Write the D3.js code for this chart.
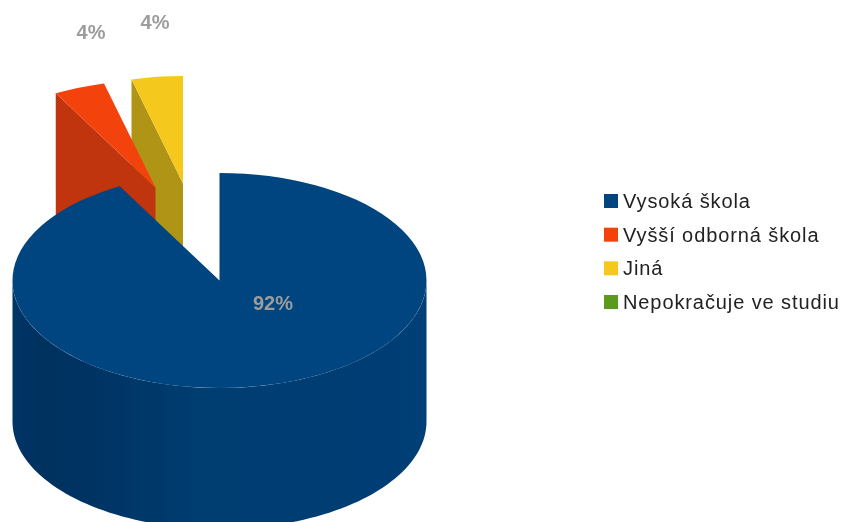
<!DOCTYPE html>
<html>
<head>
<meta charset="utf-8">
<style>
  html, body { margin: 0; padding: 0; background: #fff; overflow: hidden; }
  svg { display: block; }
  text { font-family: "Liberation Sans", sans-serif; }
</style>
</head>
<body>
<svg id="board" width="843" height="522"></svg>
<script src="https://cdn.jsdelivr.net/npm/d3@7"></script>
<script>
// Chart data
let categories = ['Vysoká škola', 'Vyšší odborná škola', 'Jiná', 'Nepokračuje ve studiu']
let values = [92, 4, 4, 0]
let percentLabels = ['92%', '4%', '4%', '0%']
let colors = ['#00457f', '#f4420f', '#f4c81c', '#5a9a1c']
let sideColors = ['#003c70', '#c0340a', '#b09418', '#4a7f16']

// Pie geometry, the flattened disc is a circle scaled on y
let cx = 219.5, cy = 280.5, rx = 207, ry = 107.5, depth = 141

// Where exploded slices moved to, and where the labels sit
let offsets = [[0, 0], [-64, -93], [-36.5, -97], [0, 0]]
let labelPos = [[273, 310], [91, 39], [155, 29]]

let board = d3.select('#board')
let defs = board.append('defs')

let blur = defs.append('filter').attr('id', 'soft')
    .attr('x', '-5%').attr('y', '-5%').attr('width', '110%').attr('height', '110%')
blur.append('feGaussianBlur').attr('stdDeviation', 0.6)

// Side of the big slice gets darker on the left
let grad = defs.append('linearGradient').attr('id', 'sideGrad')
    .attr('gradientUnits', 'userSpaceOnUse')
    .attr('x1', cx - rx).attr('x2', cx + rx).attr('y1', 0).attr('y2', 0)
let stops = [[0, '#003566'], [0.08, '#003060'], [0.2, '#003464'], [0.45, '#003c71'], [0.8, '#003d73'], [1, '#003f76']]
stops.forEach((s) => {
    grad.append('stop').attr('offset', s[0]).attr('stop-color', s[1])
})

let pie = d3.pie().sort(null).value((d) => d)
let slices = pie(values)

let arc = d3.arc().innerRadius(0).outerRadius(rx)

// Maps pie angle to a point on the rim of the flattened disc
let rimX = (a) => cx + rx * Math.sin(a)
let rimY = (a) => cy - ry * Math.cos(a)
let line = d3.line()

let chart = board.append('g').attr('filter', 'url(#soft)')

let drawTop = (i, fill) => {
    chart.append('path')
        .attr('d', arc(slices[i]))
        .attr('transform', 'translate(' + (cx + offsets[i][0]) + ',' + (cy + offsets[i][1]) + ') scale(1,' + (ry / rx) + ')')
        .attr('fill', fill)
}

// The exploded slices show the cut face on their left edge
let drawCutFace = (i) => {
    let dx = offsets[i][0], dy = offsets[i][1]
    let a = slices[i].startAngle
    let rim = [rimX(a) + dx, rimY(a) + dy]
    let apex = [cx + dx, cy + dy]
    chart.append('path')
        .attr('d', line([rim, apex, [apex[0], apex[1] + depth], [rim[0], rim[1] + depth]]) + 'Z')
        .attr('fill', sideColors[i])
}

// Draw back to front
drawCutFace(2)
drawTop(2, colors[2])
drawCutFace(1)
drawTop(1, colors[1])

// Front wall of the big slice, only the lower half of the rim shows
let frontAngles = d3.range(0, 181, 2).map((d) => (90 + d) * Math.PI / 180)
let upper = frontAngles.map((a) => [rimX(a), rimY(a)])
let lower = frontAngles.map((a) => [rimX(a), rimY(a) + depth]).reverse()
chart.append('path')
    .attr('d', line(upper.concat(lower)) + 'Z')
    .attr('fill', 'url(#sideGrad)')

drawTop(0, colors[0])

// Percent labels, the empty category has none
slices.forEach((s, i) => {
    if (values[i] === 0) return
    board.append('text')
        .attr('x', labelPos[i][0])
        .attr('y', labelPos[i][1])
        .attr('text-anchor', 'middle')
        .attr('font-size', 20)
        .attr('font-weight', 'bold')
        .attr('fill', '#9c9c9c')
        .attr('filter', 'url(#soft)')
        .text(percentLabels[i])
})

// Legend
let legendY = d3.scalePoint().domain(categories).range([201, 302])
let legend = board.append('g').attr('filter', 'url(#soft)').selectAll('g')
    .data(categories)
    .enter()
    .append('g')
    .attr('transform', (d) => 'translate(604,' + legendY(d) + ')')

legend.append('rect')
    .attr('x', 0).attr('y', -7)
    .attr('width', 14).attr('height', 14)
    .attr('fill', (d, i) => colors[i])

legend.append('text')
    .attr('x', 19).attr('y', 7)
    .attr('font-size', 20)
    .attr('letter-spacing', 0.9)
    .attr('fill', '#222')
    .text((d) => d)
</script>
</body>
</html>
